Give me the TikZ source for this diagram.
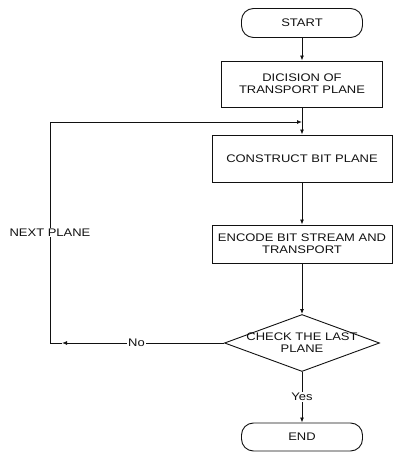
\documentclass[tikz,border=0pt]{standalone}
\usepackage{fontspec}
\setmainfont[FakeStretch=1.18]{Liberation Sans}
\usepackage{tikz}
\usetikzlibrary{arrows.meta,calc,shapes.geometric}
\definecolor{FlowInk}{HTML}{111111}

\begin{document}
\begin{tikzpicture}[
    x=1pt,y=1pt,
    every node/.style={text=FlowInk,font=\fontsize{11}{12}\selectfont},
    terminal/.style={draw=FlowInk,line width=0.9pt,rounded corners=12pt,minimum width=121pt,minimum height=29pt,inner sep=0pt},
    block/.style={draw=FlowInk,line width=0.9pt,align=center,inner sep=0pt},
    decision/.style={draw=FlowInk,line width=0.9pt,diamond,minimum width=155pt,minimum height=57pt,inner sep=0pt},
    flow/.style={draw=FlowInk,line width=0.9pt,-{Latex[length=5pt,width=4pt]}},
    tag/.style={fill=white,inner sep=1pt}
  ]
    \useasboundingbox (0,0) rectangle (392,453);
    \node[terminal] (start) at (302,430) {START};
    \node[block,minimum width=161pt,minimum height=46pt] (dicision) at (302,369) {DICISION OF\\TRANSPORT PLANE};
    \node[block,minimum width=180pt,minimum height=47pt] (construct) at (302,294.5) {CONSTRUCT BIT PLANE};
    \node[block,minimum width=180pt,minimum height=38pt] (encode) at (302,209) {ENCODE BIT STREAM AND\\TRANSPORT};
    \node[decision,label={[align=center]center:CHECK THE LAST\\PLANE}] (check) at (302,110) {};
    \node[terminal,minimum height=28pt] (stop) at (302,16) {END};

    \coordinate (noend) at (62,110);
    \coordinate (loopbot) at (50,110);
    \coordinate (looptop) at (50,331);

    \draw[flow] (start) -- (dicision);
    \draw[flow] (dicision) -- (construct);
    \draw[flow] (construct) -- (encode);
    \draw[flow] (encode) -- (check);
    \draw[flow] (check) -- node[tag]{Yes} (stop);
    \draw[flow] (check.west) -- node[tag,pos=0.54]{No} (noend);
    \draw[draw=FlowInk,line width=0.9pt] (noend) -- (loopbot) -- node[tag]{NEXT PLANE} (looptop);
    \draw[flow] (looptop) -- (looptop -| dicision);
  \end{tikzpicture}
\end{document}
